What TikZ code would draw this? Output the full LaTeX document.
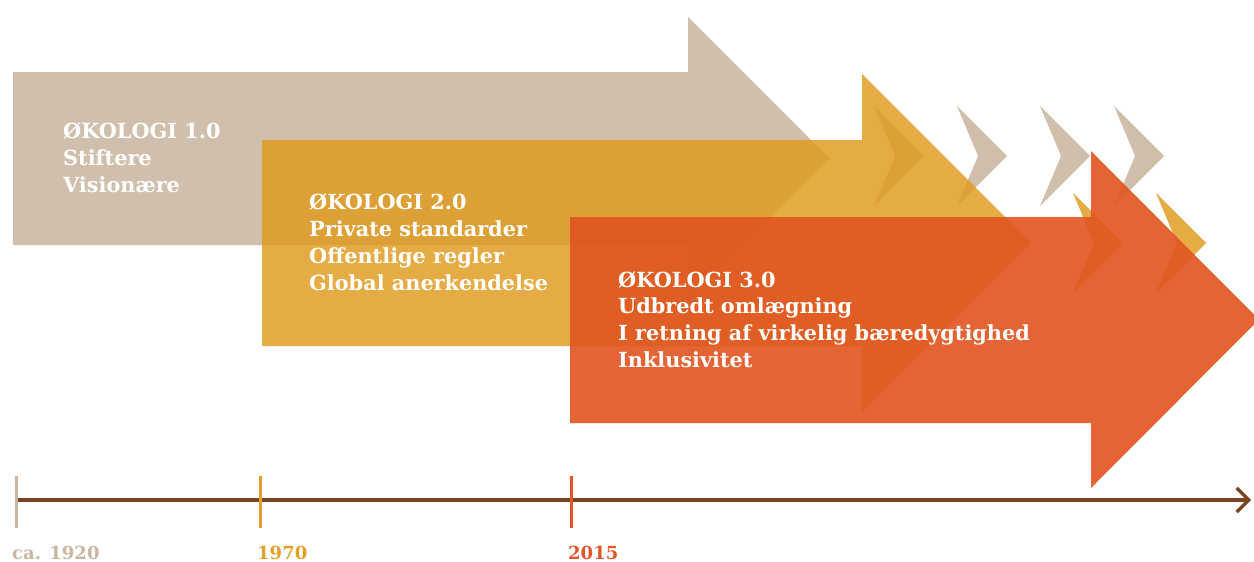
\documentclass[tikz,border=0pt]{standalone}
\usepackage{fontspec}
\setmainfont{DejaVu Serif}
\usetikzlibrary{arrows.meta}
\definecolor{beige}{HTML}{D1BFAE}
\definecolor{orng}{HTML}{DF9A1C}
\definecolor{rd}{HTML}{E15521}
\definecolor{tlbrown}{HTML}{7A4420}
\definecolor{tickbeige}{HTML}{C9B6A3}
\definecolor{tickorange}{HTML}{E3A12B}
\definecolor{tickred}{HTML}{E2552A}
\tikzset{
  beigefill/.style={fill=beige},
  orangefill/.style={fill=orng, fill opacity=0.82},
  redfill/.style={fill=rd, fill opacity=0.91},
  lbl/.style={text=white, font=\bfseries\fontsize{20.8}{27}\selectfont, anchor=base west, inner sep=0pt},
  yr/.style={font=\bfseries\fontsize{18}{22}\selectfont, anchor=base west, inner sep=0pt},
  tickmark/.style={line width=3pt},
}
\newcommand\chev[3]{\fill[#3] ({#1},{#2-50}) -- ({#1+50},{#2}) -- ({#1},{#2+50}) -- ({#1+21},{#2}) -- cycle;}
\begin{document}
\begin{tikzpicture}[x=1pt,y=-1pt]
\useasboundingbox (0,0) rectangle (1254,562);
% arrow 1
\fill[beigefill] (13,72) -- (688,72) -- (688,17) -- (829.5,158.5) -- (688,300) -- (688,245) -- (13,245) -- cycle;
\chev{874}{156}{beigefill}
\chev{957}{156}{beigefill}
\chev{1040}{156}{beigefill}
\chev{1114}{156}{beigefill}
% arrow 2
\fill[orangefill] (262,140) -- (862,140) -- (862,74) -- (1031,243) -- (862,412) -- (862,346) -- (262,346) -- cycle;
\chev{1073}{243}{orangefill}
\chev{1156}{243}{orangefill}
% arrow 3
\fill[redfill] (570,217) -- (1091,217) -- (1091,151) -- (1259,319.5) -- (1091,488) -- (1091,423) -- (570,423) -- cycle;
% texts
\node[lbl] (a1) at (63,138) {ØKOLOGI 1.0};
\node[lbl] (a2) at (63,165) {Stiftere};
\node[lbl] (a3) at (63,192) {Visionære};
\node[lbl] (b1) at (309,209) {ØKOLOGI 2.0};
\node[lbl] (b2) at (309,236) {Private standarder};
\node[lbl] (b3) at (309,263) {Offentlige regler};
\node[lbl] (b4) at (309,290) {Global anerkendelse};
\node[lbl] (c1) at (618,287) {ØKOLOGI 3.0};
\node[lbl] (c2) at (618,313) {Udbredt omlægning};
\node[lbl] (c3) at (618,340) {I retning af virkelig bæredygtighed};
\node[lbl] (c4) at (618,367) {Inklusivitet};
% timeline
\coordinate (tstart) at (15,500);
\coordinate (tend) at (1251,500);
\draw[tlbrown, line width=3.3pt, -{Straight Barb[length=12pt,width=24pt]}] (tstart) -- (tend);
\coordinate (t1a) at (16,476); \coordinate (t1b) at (16,528);
\coordinate (t2a) at (260,476); \coordinate (t2b) at (260,528);
\coordinate (t3a) at (571,476); \coordinate (t3b) at (571,528);
\draw[tickmark, tickbeige] (t1a) -- (t1b);
\draw[tickmark, tickorange] (t2a) -- (t2b);
\draw[tickmark, tickred] (t3a) -- (t3b);
\node[yr, text=tickbeige] (y1) at (12,559) {ca. 1920};
\node[yr, text=tickorange] (y2) at (257,559) {1970};
\node[yr, text=tickred] (y3) at (568,559) {2015};
\end{tikzpicture}
\end{document}
